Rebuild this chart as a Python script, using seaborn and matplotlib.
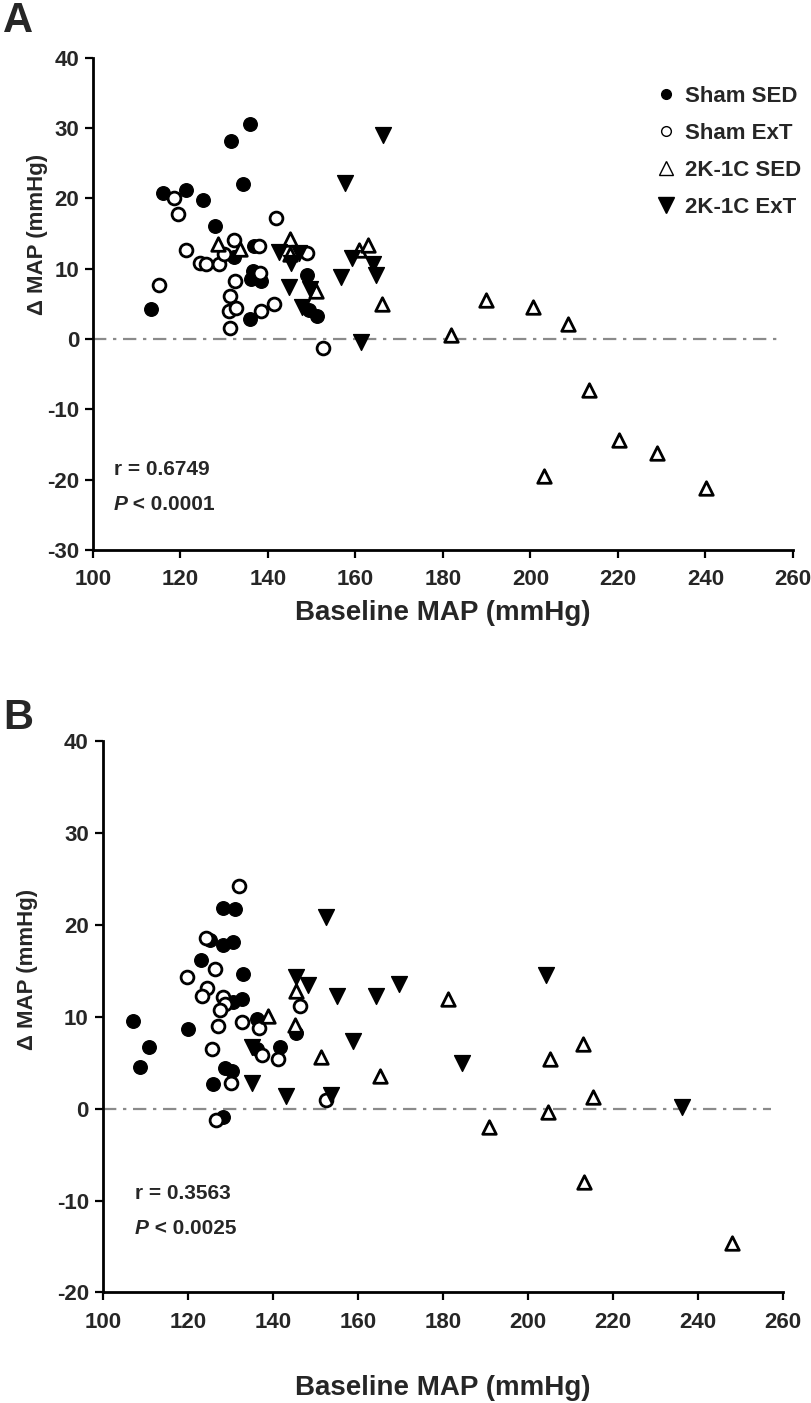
import matplotlib
matplotlib.use("Agg")
import matplotlib.pyplot as plt
import seaborn as sns
import pandas as pd
from matplotlib.lines import Line2D

# ---------------- data ----------------
groups = ["Sham SED", "Sham ExT", "2K-1C SED", "2K-1C ExT"]

# Panel A
a_sham_sed_x = [113.3, 116.0, 121.2, 125.2, 127.8, 131.6, 132.2, 134.3, 136.0, 136.7, 136.6, 136.2, 138.5, 136.0, 148.9, 149.3, 151.2]
a_sham_sed_y = [4.2, 20.7, 21.2, 19.8, 16.1, 28.2, 11.7, 22.0, 30.5, 13.2, 9.6, 8.5, 8.2, 2.8, 9.1, 4.1, 3.2]
a_sham_ext_x = [118.5, 119.4, 115.2, 121.3, 124.4, 125.9, 128.8, 129.9, 132.2, 132.4, 131.4, 131.2, 132.7, 131.4, 137.9, 138.1, 138.4, 141.3, 141.8, 148.9, 152.6]
a_sham_ext_y = [20.1, 17.8, 7.7, 12.6, 10.8, 10.7, 10.7, 12.1, 14.0, 8.2, 6.1, 4.0, 4.4, 1.6, 13.2, 9.4, 3.9, 5.0, 17.2, 12.2, -1.3]
a_k_sed_x = [128.6, 133.5, 145.1, 145.1, 151.0, 160.7, 162.9, 166.0, 181.8, 189.8, 200.6, 208.6, 213.5, 220.2, 228.9, 203.0, 240.1]
a_k_sed_y = [13.5, 12.8, 14.2, 12.1, 6.8, 12.7, 13.4, 5.0, 0.5, 5.6, 4.6, 2.1, -7.2, -14.4, -16.2, -19.5, -21.2]
a_k_ext_x = [142.6, 145.3, 147.0, 144.7, 149.6, 147.8, 156.7, 157.5, 159.2, 161.2, 163.9, 164.7, 166.2]
a_k_ext_y = [12.4, 10.8, 12.2, 7.4, 7.1, 4.5, 8.8, 22.2, 11.5, -0.5, 10.7, 9.1, 29.0]

# Panel B
b_sham_sed_x = [107.2, 111.0, 108.8, 120.1, 123.1, 128.2, 131.2, 128.2, 130.7, 125.2, 133.1, 130.7, 132.7, 136.2, 136.2, 141.8, 128.8, 130.3, 126.0, 128.2, 145.5]
b_sham_sed_y = [9.5, 6.7, 4.5, 8.7, 16.2, 21.8, 21.7, 17.8, 18.1, 18.3, 14.7, 11.6, 11.9, 9.8, 6.5, 6.7, 4.4, 4.1, 2.7, -0.9, 8.2]
b_sham_ext_x = [132.1, 124.2, 119.8, 126.3, 124.6, 123.3, 128.4, 128.8, 127.6, 132.8, 127.1, 136.8, 125.8, 137.5, 141.3, 130.2, 126.7, 146.3, 152.5]
b_sham_ext_y = [24.2, 18.6, 14.3, 15.2, 13.1, 12.3, 12.2, 11.4, 10.7, 9.4, 9.0, 8.8, 6.5, 5.8, 5.4, 2.8, -1.2, 11.2, 0.9]
b_k_sed_x = [139.0, 145.5, 145.2, 151.3, 165.2, 181.3, 212.9, 205.2, 215.4, 204.8, 191.0, 213.3, 248.0]
b_k_sed_y = [10.1, 12.8, 9.1, 5.6, 3.6, 11.9, 7.0, 5.4, 1.3, -0.4, -2.0, -8.0, -14.6]
b_k_ext_x = [152.5, 145.5, 148.4, 155.2, 164.3, 169.7, 159.0, 135.1, 135.1, 143.1, 153.8, 184.5, 204.2, 236.4]
b_k_ext_y = [20.9, 14.3, 13.5, 12.3, 12.3, 13.6, 7.4, 6.7, 2.8, 1.4, 1.5, 5.0, 14.5, 0.2]

stats_a = ("r = 0.6749", "0.0001")
stats_b = ("r = 0.3563", "0.0025")

x_ticks = [100, 120, 140, 160, 180, 200, 220, 240, 260]
a_y_ticks = [-30, -20, -10, 0, 10, 20, 30, 40]
b_y_ticks = [-20, -10, 0, 10, 20, 30, 40]

# ---------------- style ----------------
sns.set_style("ticks")
plt.rcParams["font.family"] = ["Liberation Sans", "DejaVu Sans"]
plt.rcParams["font.weight"] = "bold"
plt.rcParams["axes.unicode_minus"] = False

styles = {
    "Sham SED": dict(marker="o", facecolor="black", s=95, lw=1.0),
    "Sham ExT": dict(marker="o", facecolor="white", s=85, lw=2.0),
    "2K-1C SED": dict(marker="^", facecolor="white", s=95, lw=2.0),
    "2K-1C ExT": dict(marker="v", facecolor="black", s=130, lw=1.0),
}


def make_df(xs, ys):
    rows = []
    for g, (x, y) in zip(groups, zip(xs, ys)):
        for xi, yi in zip(x, y):
            rows.append((g, xi, yi))
    return pd.DataFrame(rows, columns=["group", "baseline", "dmap"])


df_a = make_df([a_sham_sed_x, a_sham_ext_x, a_k_sed_x, a_k_ext_x],
               [a_sham_sed_y, a_sham_ext_y, a_k_sed_y, a_k_ext_y])
df_b = make_df([b_sham_sed_x, b_sham_ext_x, b_k_sed_x, b_k_ext_x],
               [b_sham_sed_y, b_sham_ext_y, b_k_sed_y, b_k_ext_y])

fig = plt.figure(figsize=(8.12, 14.03), dpi=100)
ax_a = fig.add_axes([0.1145, 0.608, 0.862, 0.351])
ax_b = fig.add_axes([0.1265, 0.0788, 0.8375, 0.393])


def draw(ax, df, yticks, stats, text_xy, ylab_pos, xlab_pad):
    ax.hlines(0, 100, 257.3, colors="#8a8a8a", linestyles=(0, (6, 3, 1.5, 3)), lw=1.6, zorder=1)
    for g in groups:
        st = styles[g]
        sub = df[df["group"] == g]
        sns.scatterplot(data=sub, x="baseline", y="dmap", ax=ax, marker=st["marker"],
                        color=st["facecolor"], edgecolor="black", linewidth=st["lw"],
                        s=st["s"], zorder=3, legend=False)
    ax.set_xlim(100, 260)
    ax.set_ylim(yticks[0], yticks[-1])
    ax.set_xticks(x_ticks)
    ax.set_yticks(yticks)
    for sp in ["top", "right"]:
        ax.spines[sp].set_visible(False)
    for sp in ["left", "bottom"]:
        ax.spines[sp].set_linewidth(2.0)
        ax.spines[sp].set_color("black")
    ax.tick_params(axis="both", direction="out", length=6, width=1.6, color="black",
                   labelsize=16)
    ax.tick_params(axis="x", pad=8)
    ax.tick_params(axis="y", pad=4)
    for lab in ax.get_xticklabels() + ax.get_yticklabels():
        lab.set_fontweight("bold")
    ax.set_xlabel("Baseline MAP (mmHg)", fontsize=20, fontweight="bold", labelpad=xlab_pad)
    ax.set_ylabel("\u0394 MAP (mmHg)", fontsize=16, fontweight="bold")
    ax.yaxis.set_label_coords(*ylab_pos)
    tx, ty, dy = text_xy
    ax.text(tx, ty, stats[0], fontsize=15, fontweight="bold", va="center", ha="left")
    p = ax.text(tx, ty - dy, "P", fontsize=15, fontweight="bold", fontstyle="italic",
                va="center", ha="left")
    ax.annotate(" < " + stats[1], xy=(1, 0.5), xycoords=p, fontsize=15,
                fontweight="bold", va="center", ha="left")


draw(ax_a, df_a, a_y_ticks, stats_a, (104.7, -18.5, 5.1), (-0.064, 0.64), 7)
draw(ax_b, df_b, b_y_ticks, stats_b, (107.6, -9.2, 3.8), (-0.095, 0.585), 30)

# legend in panel A
handles = [
    Line2D([], [], ls="none", marker="o", markersize=7, markerfacecolor="black", markeredgecolor="black"),
    Line2D([], [], ls="none", marker="o", markersize=7, markerfacecolor="white", markeredgecolor="black", markeredgewidth=1.0),
    Line2D([], [], ls="none", marker="^", markersize=10, markerfacecolor="white", markeredgecolor="black", markeredgewidth=1.0),
    Line2D([], [], ls="none", marker="v", markersize=11, markerfacecolor="black", markeredgecolor="black"),
]
leg = ax_a.legend(handles, groups, loc="upper left", bbox_to_anchor=(0.79, 0.96),
                  frameon=False, handlelength=1.0, handletextpad=0.35, labelspacing=0.72,
                  borderaxespad=0, prop=dict(size=16, weight="bold"))

fig.text(0.004, 0.985, "A", fontsize=30, fontweight="bold", ha="left", va="center")
fig.text(0.004, 0.488, "B", fontsize=30, fontweight="bold", ha="left", va="center")

fig.savefig("out.png", dpi=100)
